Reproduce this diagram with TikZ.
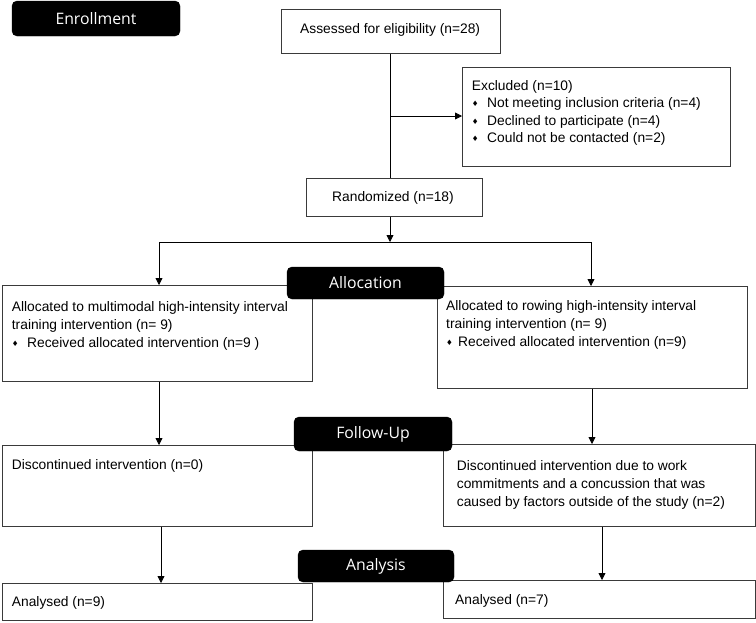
\documentclass[tikz,border=0pt]{standalone}
\usepackage{fontspec}
\setmainfont{Liberation Sans}
\newfontfamily\hdrfont{Open Sans}
\newfontfamily\symfont{DejaVu Sans}
\usetikzlibrary{arrows.meta}
\definecolor{boxline}{HTML}{3A3A3A}
\newcommand\bul{\makebox[15.3pt][l]{\symfont\fontsize{7.5}{7.5}\selectfont\raisebox{1pt}{♦}}}
\newcommand\hdrtext[1]{\raisebox{-1.5pt}{#1}}
\begin{document}
\begin{tikzpicture}[x=1pt,y=-1pt,
  box/.style={draw=boxline, line width=0.9pt, anchor=north west, inner sep=0pt},
  txt/.style={anchor=base west, inner sep=0pt, align=left, font=\fontsize{13.8}{18}\selectfont},
  hdr/.style={fill=black, draw=black, rounded corners=5pt, text=white, inner sep=0pt,
    font=\hdrfont\fontsize{15.8}{18}\selectfont},
  conn/.style={draw=black, line width=0.8pt},
  arr/.style={conn, -{Triangle[length=7pt,width=7pt]}}]
\useasboundingbox (0,0) rectangle (756,622);
% boxes
\node[box, minimum width=219, minimum height=44] (assess) at (281,9) {};
\node[box, minimum width=268, minimum height=99] (excl) at (462,67) {};
\node[box, minimum width=176, minimum height=38] (rand) at (306,178) {};
\node[box, minimum width=310, minimum height=96] (alL) at (2,285) {};
\node[box, minimum width=310, minimum height=102] (alR) at (437,286) {};
\node[box, minimum width=310, minimum height=81] (fuL) at (2,445) {};
\node[box, minimum width=312, minimum height=82] (fuR) at (443,444) {};
\node[box, minimum width=310, minimum height=37] (anL) at (2,583) {};
\node[box, minimum width=312, minimum height=38] (anR) at (443,580) {};
% texts (base anchor = baseline of the last line)
\node[txt] (assessT) at (300,33.3) {Assessed for eligibility (n=28)};
\node[txt, font=\fontsize{13.8}{17.5}\selectfont] (exclT) at (471.7,142.5) {Excluded (n=10)\\
\bul Not meeting inclusion criteria (n=4)\\
\bul Declined to participate (n=4)\\
\bul Could not be contacted (n=2)};
\node[txt] (randT) at (332,201) {Randomized (n=18)};
\node[txt] (alLT) at (11.7,347) {Allocated to multimodal high-intensity interval\\
training intervention (n= 9)\\
\bul Received allocated intervention (n=9 )};
\node[txt] (alRT) at (446,346.7) {Allocated to rowing high-intensity interval\\
training intervention (n= 9)\\
\makebox[12pt][l]{\symfont\fontsize{7.5}{7.5}\selectfont\raisebox{1pt}{♦}}Received allocated intervention (n=9)};
\node[txt] (fuLT) at (11.7,469.3) {Discontinued intervention (n=0)};
\node[txt] (fuRT) at (456.7,506) {Discontinued intervention due to work\\
commitments and a concussion that was\\
caused by factors outside of the study (n=2)};
\node[txt] (anLT) at (11.7,606.7) {Analysed (n=9)};
\node[txt] (anRT) at (455,604.3) {Analysed (n=7)};
% connectors
\coordinate (ex) at (390,116);
\coordinate (split) at (390,242);
\coordinate (splitL) at (159,242);
\coordinate (splitR) at (591,242);
\draw[conn] (assess.south -| ex) -- (rand.north -| ex);
\draw[arr] (ex) -- (excl.west |- ex);
\draw[arr] (rand.south -| split) -- (split);
\draw[conn] (splitL) -- (splitR);
\draw[arr] (splitL) -- (alL.north -| splitL);
\draw[arr] (splitR) -- (alR.north -| splitR);
\coordinate (c1) at (159,0);
\coordinate (c2) at (592,0);
\coordinate (c3) at (161,0);
\coordinate (c4) at (602,0);
\draw[arr] (alL.south -| c1) -- (fuL.north -| c1);
\draw[arr] (alR.south -| c2) -- (fuR.north -| c2);
\draw[arr] (fuL.south -| c3) -- (anL.north -| c3);
\draw[arr] (fuR.south -| c4) -- (anR.north -| c4);
% headers
\node[hdr, minimum width=168, minimum height=35] (enroll) at (96,18.5) {\hdrtext{Enrollment}};
\node[hdr, minimum width=157, minimum height=32] (alloc) at (365.5,283) {\hdrtext{Allocation}};
\node[hdr, minimum width=158, minimum height=34] (follow) at (373,434) {\hdrtext{Follow-Up}};
\node[hdr, minimum width=156, minimum height=32] (analysis) at (376,566) {\hdrtext{Analysis}};
\end{tikzpicture}
\end{document}
